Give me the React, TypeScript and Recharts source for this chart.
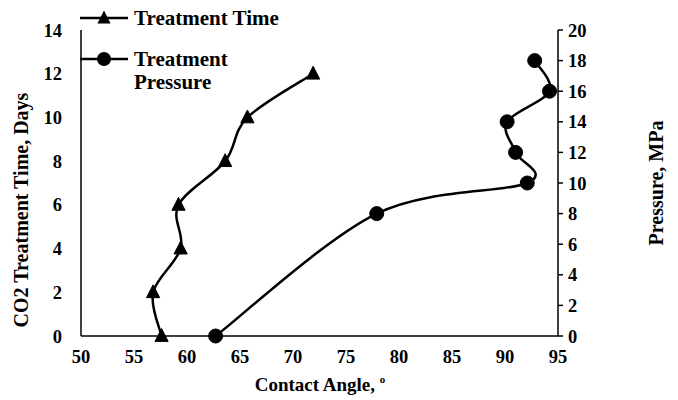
import React from 'react';
import { LineChart, Line, XAxis, YAxis, Legend, Label } from 'recharts';

const angleTicks = [50, 55, 60, 65, 70, 75, 80, 85, 90, 95];
const dayTicks = [0, 2, 4, 6, 8, 10, 12, 14];
const pressureTicks = [0, 2, 4, 6, 8, 10, 12, 14, 16, 18, 20];

const seriesNames = ['Treatment Time', 'Treatment Pressure'];

const timeAngles = [57.6, 56.8, 59.4, 59.2, 63.6, 65.7, 71.9];
const timeDays = [0, 2, 4, 6, 8, 10, 12];

const pressureAngles = [62.7, 77.9, 92.1, 91.0, 90.2, 94.2, 92.8];
const pressureValues = [0, 8, 10, 12, 14, 16, 18];

const timeData = timeAngles.map((x, i) => ({ x, y: timeDays[i] }));
const pressureData = pressureAngles.map((x, i) => ({ x, y: pressureValues[i] }));

const FONT = "'Liberation Serif', 'Times New Roman', serif";
const tickStyle = { fill: '#000', fontSize: 18.5, fontWeight: 'bold', fontFamily: FONT };
const titleStyle = { ...tickStyle, fontSize: 20 };
const legendStyle = { ...tickStyle, fontSize: 21 };

// Excel-like smoothing (Catmull-Rom style Bezier)
function excelSmooth(context: any) {
  let pts: number[][] = [];
  return {
    areaStart() {},
    areaEnd() {},
    lineStart() {
      pts = [];
    },
    lineEnd() {
      const n = pts.length;
      if (n === 0) return;
      context.moveTo(pts[0][0], pts[0][1]);
      if (n === 1) return;
      for (let i = 0; i < n - 1; i++) {
        const p0 = pts[Math.max(i - 1, 0)];
        const p1 = pts[i];
        const p2 = pts[i + 1];
        const p3 = pts[Math.min(i + 2, n - 1)];
        const c1x = p1[0] + (p2[0] - p0[0]) / 6;
        const c1y = p1[1] + (p2[1] - p0[1]) / 6;
        const c2x = p2[0] - (p3[0] - p1[0]) / 6;
        const c2y = p2[1] - (p3[1] - p1[1]) / 6;
        context.bezierCurveTo(c1x, c1y, c2x, c2y, p2[0], p2[1]);
      }
    },
    point(x: number, y: number) {
      pts.push([+x, +y]);
    },
  };
}

const triPoints = (cx: number, cy: number, s: number) =>
  `${cx},${cy - s * 0.62} ${cx - s * 0.55},${cy + s * 0.45} ${cx + s * 0.55},${cy + s * 0.45}`;

const renderTriangle = (props: any) => {
  const { cx, cy, index } = props;
  if (cx == null || cy == null) return <g key={`t-${index}`} />;
  return <polygon key={`t-${index}`} points={triPoints(cx, cy, 12)} fill="#000" stroke="#000" />;
};

const renderLegend = () => (
  <svg width={320} height={100} style={{ overflow: 'visible' }}>
    <line x1={80} y1={18} x2={128} y2={18} stroke="#000" strokeWidth={2.5} />
    <polygon points={triPoints(104, 18, 12)} fill="#000" />
    <text x={134} y={25} style={legendStyle}>{seriesNames[0]}</text>
    <line x1={80} y1={59} x2={128} y2={59} stroke="#000" strokeWidth={2.5} />
    <circle cx={104} cy={59} r={7} fill="#000" />
    <text x={134} y={66} style={legendStyle}>Treatment</text>
    <text x={134} y={89} style={legendStyle}>Pressure</text>
  </svg>
);

export default function App() {
  return (
    <div style={{ position: 'absolute', left: 0, top: 0 }}>
      <LineChart width={678} height={400} margin={{ top: 30, right: 0, bottom: 0, left: 0 }}>
        <XAxis
          type="number"
          dataKey="x"
          domain={[50, 95]}
          ticks={angleTicks}
          allowDuplicatedCategory={false}
          height={64}
          tickLine={false}
          tickSize={6}
          tickMargin={8}
          axisLine={{ stroke: '#000', strokeWidth: 1.5 }}
          tick={tickStyle}
          interval={0}
        >
          <Label
            content={() => (
              <text x={320} y={391} textAnchor="middle" style={{ ...tickStyle, fontSize: 19 }}>
                Contact Angle, <tspan dy={-8} fontSize={11}>o</tspan>
              </text>
            )}
          />
        </XAxis>
        <YAxis
          yAxisId="left"
          orientation="left"
          width={81}
          type="number"
          domain={[0, 14]}
          ticks={dayTicks}
          tickLine={false}
          tickSize={6}
          tickMargin={13}
          axisLine={{ stroke: '#000', strokeWidth: 1.5 }}
          tick={tickStyle}
          interval={0}
        >
          <Label
            content={() => (
              <text transform="translate(28,210) rotate(-90)" textAnchor="middle" style={titleStyle}>
                CO2 Treatment Time, Days
              </text>
            )}
          />
        </YAxis>
        <YAxis
          yAxisId="right"
          orientation="right"
          width={120}
          type="number"
          domain={[0, 20]}
          ticks={pressureTicks}
          tickLine={{ stroke: '#000', strokeWidth: 1.5 }}
          tickSize={5}
          tickMargin={5}
          axisLine={{ stroke: '#000', strokeWidth: 1.5 }}
          tick={{ ...tickStyle, textAnchor: 'start' }}
          interval={0}
        >
          <Label
            content={() => (
              <text transform="translate(663,183) rotate(-90)" textAnchor="middle" style={titleStyle}>
                Pressure, MPa
              </text>
            )}
          />
        </YAxis>
        <Legend
          layout="vertical"
          align="center"
          verticalAlign="middle"
          wrapperStyle={{ position: 'absolute', left: 0, top: 0, width: 320, height: 100 }}
          content={renderLegend}
        />
        <Line
          yAxisId="left"
          data={timeData}
          dataKey="y"
          name={seriesNames[0]}
          type={excelSmooth as any}
          stroke="#000"
          strokeWidth={2.5}
          dot={renderTriangle}
          activeDot={false}
          isAnimationActive={false}
        />
        <Line
          yAxisId="right"
          data={pressureData}
          dataKey="y"
          name={seriesNames[1]}
          type={excelSmooth as any}
          stroke="#000"
          strokeWidth={2.5}
          dot={{ r: 7, fill: '#000', stroke: '#000', strokeWidth: 1 }}
          activeDot={false}
          isAnimationActive={false}
        />
      </LineChart>
    </div>
  );
}
